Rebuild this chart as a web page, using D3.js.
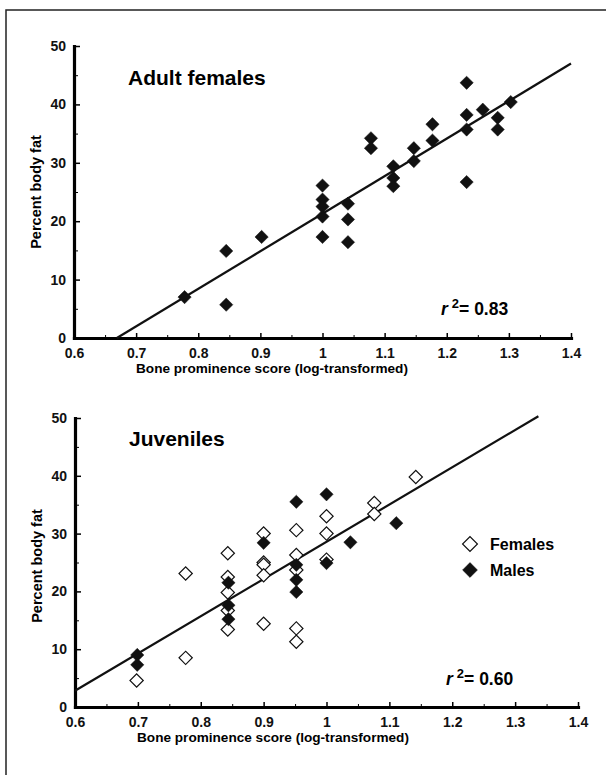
<!DOCTYPE html>
<html>
<head>
<meta charset="utf-8">
<script src="https://cdn.jsdelivr.net/npm/d3@7"></script>
<style>
	body { margin: 0; background: white; }
	svg { display: block; font-family: "Liberation Sans", Arial, sans-serif; font-weight: bold; }
</style>
</head>
<body>
<svg></svg>
<script>
// x ticks / y ticks shared by both panels
const xTicks = [0.6, 0.7, 0.8, 0.9, 1.0, 1.1, 1.2, 1.3, 1.4];
const yTicks = [0, 10, 20, 30, 40, 50];

// adult females
const adultX = [0.778, 0.845, 0.845, 0.902, 1.0, 1.0, 1.0, 1.0, 1.0, 1.041, 1.041, 1.041, 1.078, 1.078,
	1.114, 1.114, 1.114, 1.147, 1.147, 1.177, 1.177, 1.232, 1.232, 1.232, 1.232, 1.258, 1.282, 1.282, 1.303];
const adultY = [7.0, 14.9, 5.7, 17.3, 26.1, 23.7, 22.5, 20.8, 17.3, 23.0, 20.3, 16.4, 34.2, 32.5,
	29.4, 27.4, 26.0, 32.5, 30.3, 36.6, 33.8, 43.7, 38.2, 35.7, 26.7, 39.1, 37.7, 35.7, 40.4];
const adultFit = [[0.669, 0], [1.4, 47.0]];

// juveniles
const juvFemX = [0.698, 0.776, 0.776, 0.843, 0.843, 0.843, 0.843, 0.843, 0.9, 0.9, 0.9, 0.9, 0.9,
	0.952, 0.952, 0.952, 0.952, 0.952, 1.0, 1.0, 1.0, 1.076, 1.076, 1.142];
const juvFemY = [4.6, 23.1, 8.5, 26.6, 22.5, 19.8, 16.7, 13.4, 30.0, 25.0, 24.6, 22.8, 14.4,
	30.6, 26.3, 23.7, 13.6, 11.3, 33.0, 30.0, 25.5, 35.3, 33.4, 39.8];
const juvMaleX = [0.699, 0.699, 0.844, 0.844, 0.844, 0.9, 0.952, 0.952, 0.952, 0.952, 1.0, 1.0, 1.038, 1.111];
const juvMaleY = [9.0, 7.3, 21.5, 17.6, 15.2, 28.4, 35.5, 24.6, 22.0, 19.9, 36.8, 24.9, 28.5, 31.8];
const juvFit = [[0.6, 2.8], [1.337, 50.3]];

const width = 606;
const height = 775;

let svg = d3.select("svg")
	.attr("width", width)
	.attr("height", height)

// frame (only top and left edges show in the scan)
svg.append("path")
	.attr("d", `M6,${height}V10H${width}`)
	.attr("fill", "none")
	.attr("stroke", "#222")
	.attr("stroke-width", 1.5)

const diamond = d3.symbol(d3.symbolSquare, 88);

function drawPanel(p) {
	let xScale = d3.scaleLinear().domain([0.6, 1.4]).range([p.left, p.right]);
	let yScale = d3.scaleLinear().domain([0, 50]).range([p.bottom, p.top]);

	let g = svg.append("g");

	// minor ticks first so the thick axis sits on top
	g.append("g")
		.attr("transform", `translate(0, ${p.bottom})`)
		.call(d3.axisBottom(xScale).tickValues(d3.range(0.65, 1.4, 0.1)).tickSize(-3).tickFormat(""))
		.call(a => a.select(".domain").remove())
	g.append("g")
		.attr("transform", `translate(${p.left}, 0)`)
		.call(d3.axisLeft(yScale).tickValues([5, 15, 25, 35, 45]).tickSize(-4).tickFormat(""))
		.call(a => a.select(".domain").remove())

	let xAxis = g.append("g")
		.attr("transform", `translate(0, ${p.bottom})`)
		.call(d3.axisBottom(xScale).tickValues(xTicks).tickSizeInner(-5).tickSizeOuter(0).tickPadding(10)
			.tickFormat(d => d === 1 ? "1" : d3.format(".1f")(d)))
	let yAxis = g.append("g")
		.attr("transform", `translate(${p.left}, 0)`)
		.call(d3.axisLeft(yScale).tickValues(yTicks).tickSizeInner(-6).tickSizeOuter(0).tickPadding(8))

	;[xAxis, yAxis].forEach(a => {
		a.select(".domain").attr("stroke-width", 3.2).attr("stroke-linecap", "square")
		a.selectAll(".tick line").attr("stroke-width", 1.5)
		a.selectAll("text")
			.style("font-family", "Liberation Sans, Arial, sans-serif")
			.style("font-weight", "bold")
			.style("font-size", "14px")
			.attr("fill", "#111")
	})

	g.append("text")
		.attr("x", p.xTitleX)
		.attr("y", p.bottom + 35)
		.attr("text-anchor", "middle")
		.style("font-size", "13.6px")
		.text("Bone prominence score (log-transformed)")

	g.append("text")
		.attr("transform", `translate(${p.left - 33}, ${p.yTitleY}) rotate(-90)`)
		.attr("text-anchor", "middle")
		.style("font-size", "14.5px")
		.text("Percent body fat")

	g.append("text")
		.attr("x", p.left + 54)
		.attr("y", p.titleY)
		.style("font-size", "21px")
		.text(p.title)

	// regression line
	g.append("path")
		.datum(p.fit)
		.attr("d", d3.line().x(d => xScale(d[0])).y(d => yScale(d[1])))
		.attr("fill", "none")
		.attr("stroke", "#111")
		.attr("stroke-width", 2.2)

	p.series.forEach(s => {
		g.append("g")
			.selectAll("path")
			.data(s.x.map((x, i) => [x, s.y[i]]))
			.enter()
			.append("path")
				.attr("d", diamond)
				.attr("transform", d => `translate(${xScale(d[0])}, ${yScale(d[1])}) rotate(45)`)
				.attr("fill", s.filled ? "#111" : "white")
				.attr("stroke", "#111")
				.attr("stroke-width", s.filled ? 0.5 : 1.2)
	})

	let r2 = g.append("text")
		.attr("x", p.r2x)
		.attr("y", p.r2y)
		.style("font-size", "17.5px")
	r2.append("tspan").style("font-style", "italic").text("r")
	r2.append("tspan").attr("dx", 4).attr("dy", -7).style("font-size", "13px").text("2")
	r2.append("tspan").attr("dy", 7).text("= " + p.r2)

	return { xScale, yScale, g };
}

drawPanel({
	left: 74, right: 571, top: 46, bottom: 338,
	title: "Adult females", titleY: 85, xTitleX: 272, yTitleY: 192,
	fit: adultFit, r2: "0.83", r2x: 441, r2y: 315,
	series: [{ x: adultX, y: adultY, filled: true }]
})

let juv = drawPanel({
	left: 75, right: 578, top: 418, bottom: 707,
	title: "Juveniles", titleY: 446, xTitleX: 273, yTitleY: 566,
	fit: juvFit, r2: "0.60", r2x: 446, r2y: 685,
	series: [{ x: juvFemX, y: juvFemY, filled: false }, { x: juvMaleX, y: juvMaleY, filled: true }]
})

// legend
let legendData = [
	{ text: "Females", filled: false },
	{ text: "Males", filled: true }
];
let legend = juv.g.selectAll(".legendItem")
	.data(legendData)
	.enter()
	.append("g")
		.classed("legendItem", true)
		.attr("transform", (d, i) => `translate(470, ${544 + 26 * i})`)
legend.append("path")
	.attr("d", d3.symbol(d3.symbolSquare, 110))
	.attr("transform", "rotate(45)")
	.attr("fill", d => d.filled ? "#111" : "white")
	.attr("stroke", "#111")
	.attr("stroke-width", d => d.filled ? 0.5 : 1.2)
legend.append("text")
	.attr("x", 20)
	.attr("y", 6)
	.style("font-size", "16px")
	.text(d => d.text)
</script>
</body>
</html>
